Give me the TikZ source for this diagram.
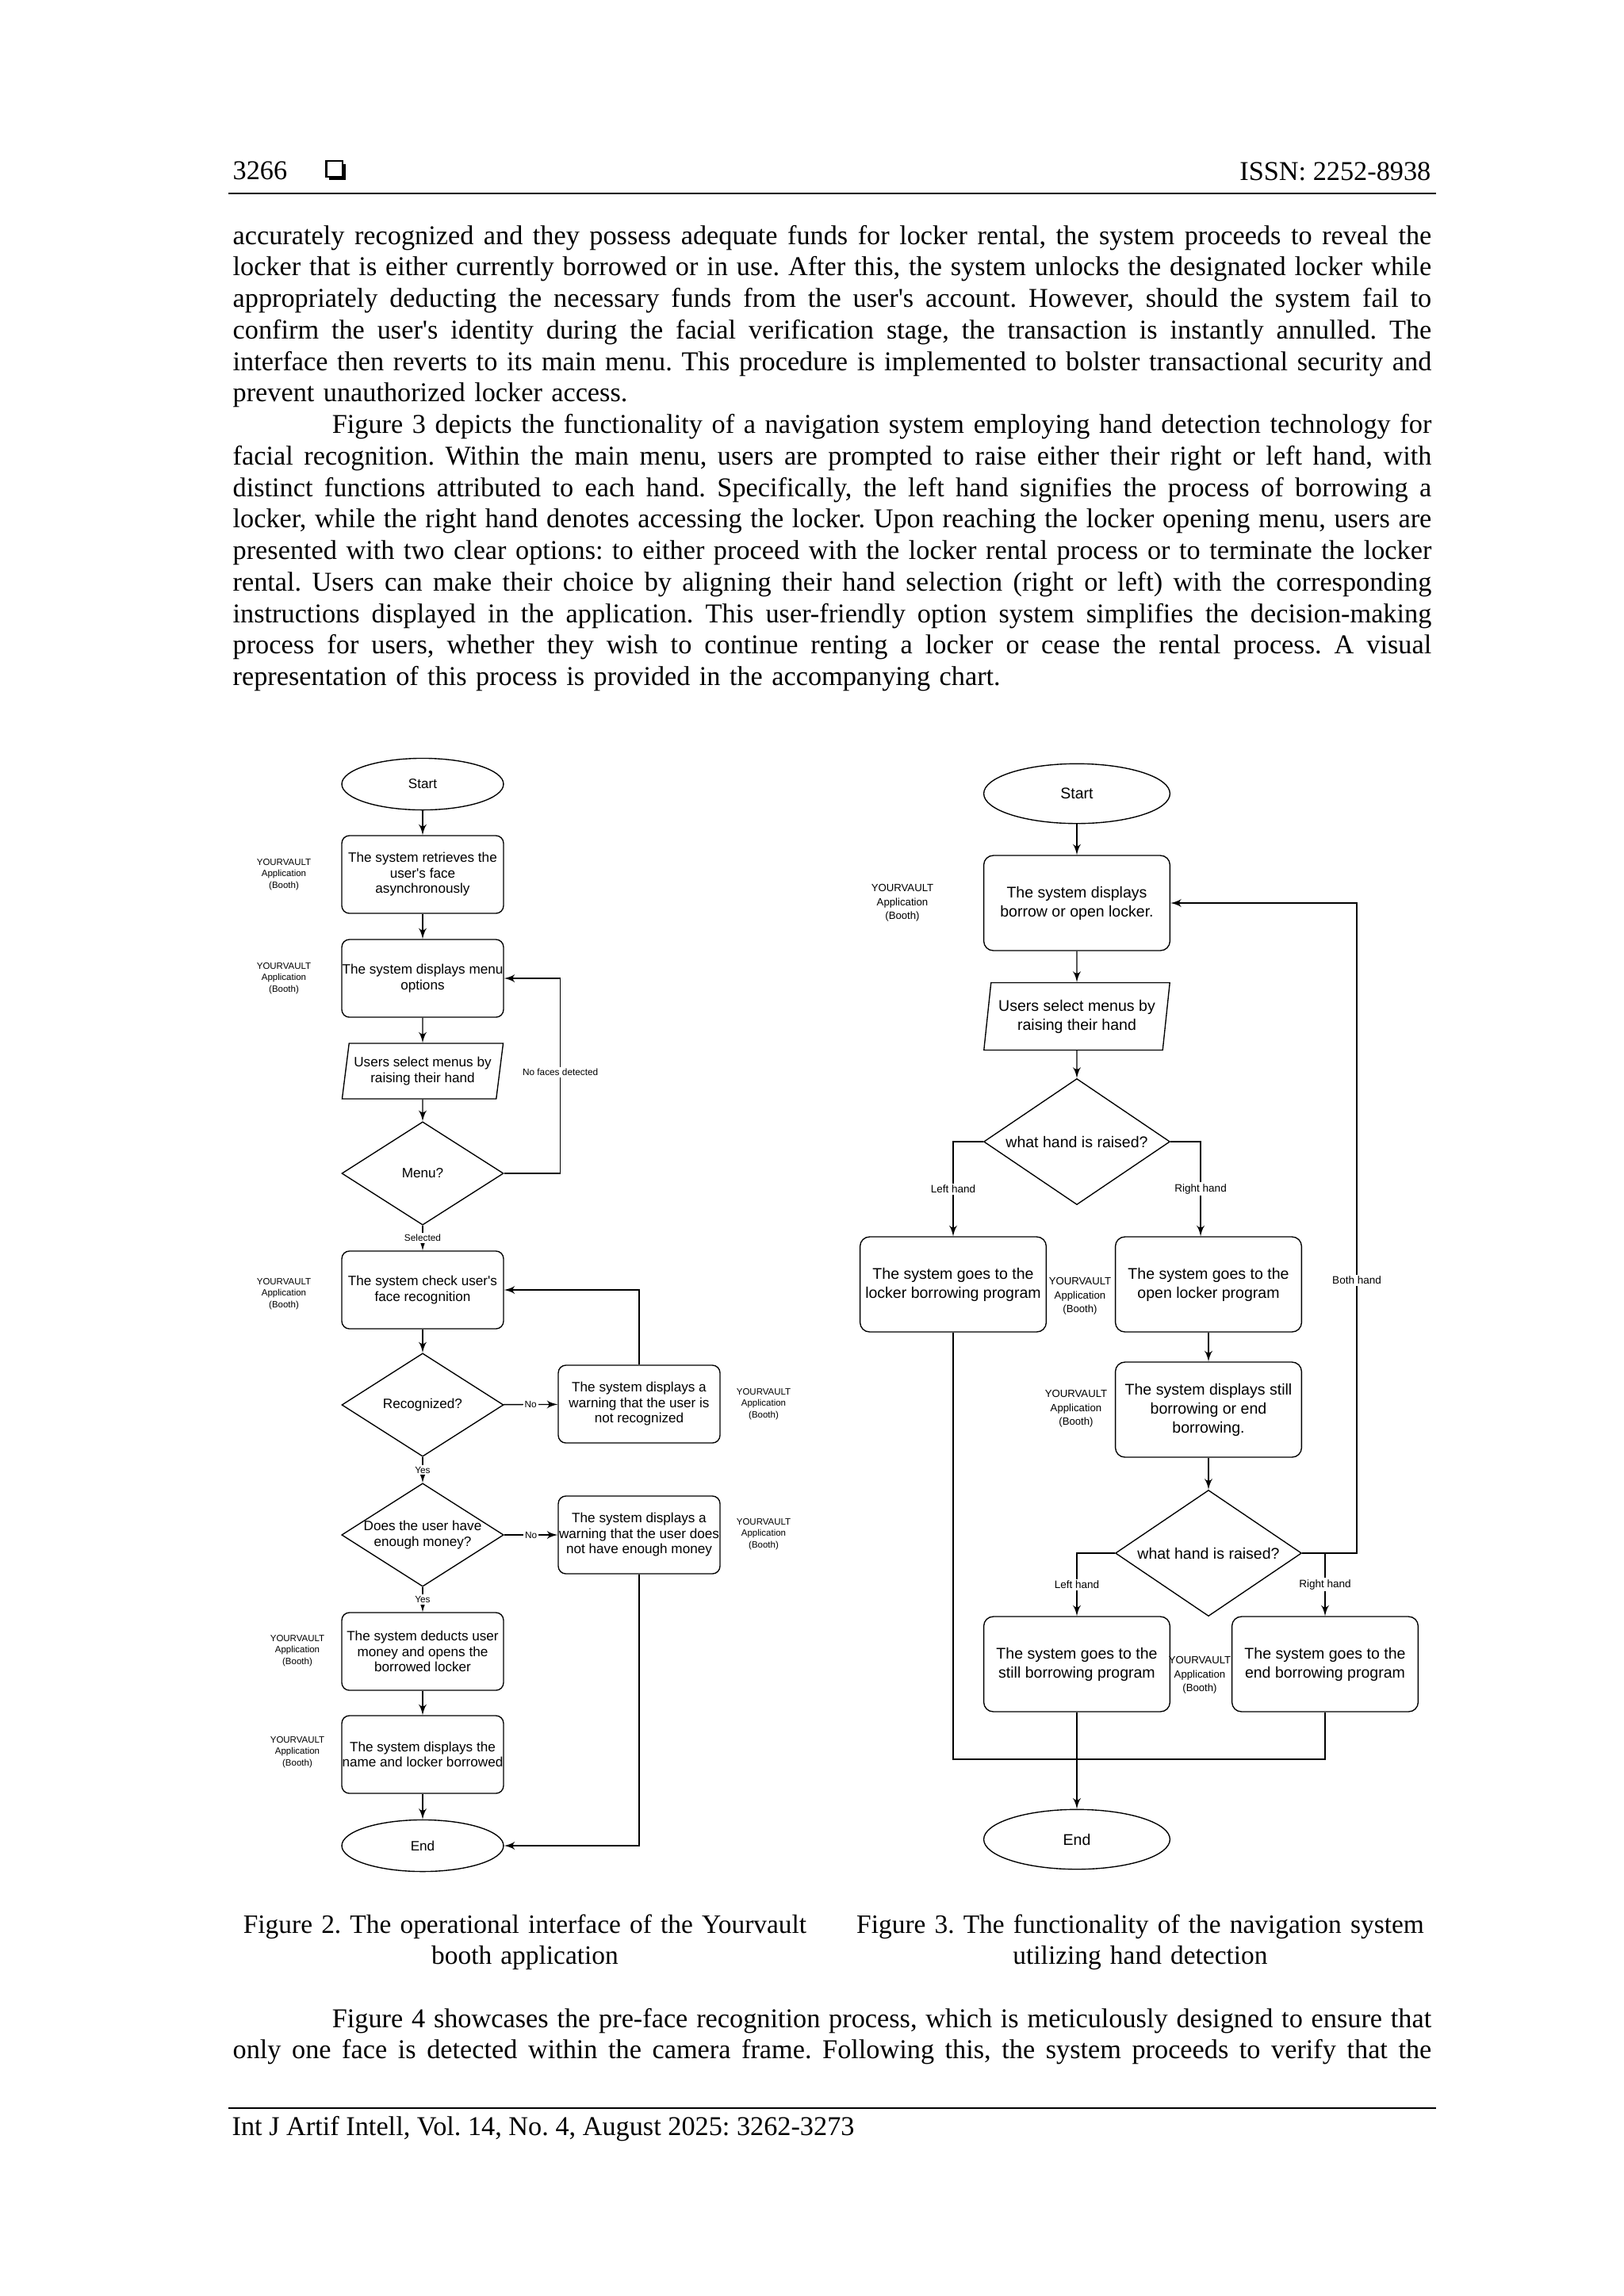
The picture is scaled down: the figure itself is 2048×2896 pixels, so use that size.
\documentclass[tikz,border=0pt]{standalone}
\usepackage{fontspec}
\setmainfont{Liberation Serif}
\newfontfamily\chartfont{Liberation Sans}
\usetikzlibrary{arrows}
\usetikzlibrary{shapes.geometric}
\newlength\bodywd
\setlength\bodywd{441pt}
\newcommand\jl[1]{\noindent\hbox to\bodywd{\spaceskip=2.5pt plus 12pt minus 0.9pt\relax #1}\par}
\newcommand\ind{\hspace*{36.5pt}}
\newcommand\aps{\textquotesingle}
\frenchspacing

\begin{document}
\begin{tikzpicture}[x=0.010254cm, y=-0.010254cm]
        \tikzset{page/.style = {inner sep=0pt, text width=\bodywd, font=\fontsize{10pt}{11.6pt}\selectfont}}
        \tikzset{hdr/.style = {inner sep=0pt, font=\fontsize{10pt}{11.6pt}\selectfont}}
        \tikzset{captext/.style = {inner sep=0pt, text width=270pt, align=center, font=\fontsize{9.75pt}{11.6pt}\selectfont}}
        \tikzset{edge/.style = {->,> = latex', line width=0.4pt}}
        \tikzset{link/.style = {-, line width=0.4pt}}
        % left chart
        \tikzset{lbox/.style = {shape=rectangle, draw, line width=0.4pt, rounded corners=2.8pt, minimum width=59.5pt, minimum height=28.6pt, inner sep=0pt, align=center, font=\chartfont\fontsize{5pt}{5.7pt}\selectfont}}
        \tikzset{lterm/.style = {lbox, shape=ellipse, sharp corners, minimum height=19pt}}
        \tikzset{lio/.style = {lbox, shape=trapezium, sharp corners, trapezium left angle=77, trapezium right angle=103, trapezium stretches=true, minimum height=20.4pt}}
        \tikzset{ldec/.style = {lbox, shape=diamond, sharp corners, shape aspect=1.57, minimum height=38pt}}
        \tikzset{lside/.style = {align=center, inner sep=0pt, font=\chartfont\fontsize{3.35pt}{4.15pt}\selectfont}}
        \tikzset{ledge/.style = {fill=white, inner sep=0.6pt, font=\chartfont\fontsize{3.45pt}{4pt}\selectfont}}
        % right chart
        \tikzset{rbox/.style = {lbox, rounded corners=3.5pt, minimum width=68.5pt, minimum height=35pt, font=\chartfont\fontsize{5.7pt}{7pt}\selectfont}}
        \tikzset{rterm/.style = {rbox, shape=ellipse, sharp corners, minimum height=22pt}}
        \tikzset{rio/.style = {rbox, shape=trapezium, sharp corners, trapezium left angle=79, trapezium right angle=101, trapezium stretches=true, minimum height=24.8pt}}
        \tikzset{rdec/.style = {rbox, shape=diamond, sharp corners, shape aspect=1.48, minimum height=46.4pt}}
        \tikzset{rside/.style = {lside, font=\chartfont\fontsize{3.85pt}{5.1pt}\selectfont}}
        \tikzset{redge/.style = {ledge, font=\chartfont\fontsize{3.95pt}{4.5pt}\selectfont}}

        \fill[white] (0,0) rectangle (2048,2896);
        \useasboundingbox (0,0) rectangle (2048,2896);

        % header and text
        \node[hdr, anchor=base west] (pg) at (293,226) {3266};
        \fill (415,207) rectangle (436,227);
        \filldraw[fill=white, line width=0.6pt] (411.5,203) rectangle (432,223);
        \node[hdr, anchor=base east] (issn) at (1805,227) {ISSN: 2252-8938};
        \draw[line width=0.8pt] (288,244) -- (1811,244);

        \node[page, anchor=base west] (p1) at (293,308) {%
          \jl{accurately recognized and they possess adequate funds for locker rental, the system proceeds to reveal the}
          \jl{locker that is either currently borrowed or in use. After this, the system unlocks the designated locker while}
          \jl{appropriately deducting the necessary funds from the user\aps s account. However, should the system fail to}
          \jl{confirm the user\aps s identity during the facial verification stage, the transaction is instantly annulled. The}
          \jl{interface then reverts to its main menu. This procedure is implemented to bolster transactional security and}
          \noindent prevent unauthorized locker access.\par
          \jl{\ind Figure 3 depicts the functionality of a navigation system employing hand detection technology for}
          \jl{facial recognition. Within the main menu, users are prompted to raise either their right or left hand, with}
          \jl{distinct functions attributed to each hand. Specifically, the left hand signifies the process of borrowing a}
          \jl{locker, while the right hand denotes accessing the locker. Upon reaching the locker opening menu, users are}
          \jl{presented with two clear options: to either proceed with the locker rental process or to terminate the locker}
          \jl{rental. Users can make their choice by aligning their hand selection (right or left) with the corresponding}
          \jl{instructions displayed in the application. This user-friendly option system simplifies the decision-making}
          \jl{process for users, whether they wish to continue renting a locker or cease the rental process. A visual}
          \noindent representation of this process is provided in the accompanying chart.\par};

        % figure 2
        \node[lterm] (a1) at (533, 989) {Start};
        \node[lbox] (a2) at (533, 1103) {The system retrieves the\\user's face\\asynchronously};
        \node[lbox] (a3) at (533, 1234) {The system displays menu\\options};
        \node[lio] (a4) at (533, 1351) {Users select menus by\\raising their hand};
        \node[ldec] (a5) at (533, 1480) {Menu?};
        \node[lbox] (a6) at (533, 1627) {The system check user's\\face recognition};
        \node[ldec] (a7) at (533, 1772) {Recognized?};
        \node[lbox] (a8) at (806, 1771) {The system displays a\\warning that the user is\\not recognized};
        \node[ldec] (a9) at (533, 1936) {Does the user have\\enough money?};
        \node[lbox] (a10) at (806, 1936) {The system displays a\\warning that the user does\\not have enough money};
        \node[lbox] (a11) at (533, 2083) {The system deducts user\\money and opens the\\borrowed locker};
        \node[lbox] (a12) at (533, 2213) {The system displays the\\name and locker borrowed};
        \node[lterm] (a13) at (533, 2328) {End};

        \node[lside] (s2) at (358, 1103) {YOURVAULT\\Application\\(Booth)};
        \node[lside] (s3) at (358, 1234) {YOURVAULT\\Application\\(Booth)};
        \node[lside] (s6) at (358, 1632) {YOURVAULT\\Application\\(Booth)};
        \node[lside] (s8) at (963, 1771) {YOURVAULT\\Application\\(Booth)};
        \node[lside] (s10) at (963, 1935) {YOURVAULT\\Application\\(Booth)};
        \node[lside] (s11) at (375, 2082) {YOURVAULT\\Application\\(Booth)};
        \node[lside] (s12) at (375, 2210) {YOURVAULT\\Application\\(Booth)};

        \draw[edge] (a1) to (a2);
        \draw[edge] (a2) to (a3);
        \draw[edge] (a3) to (a4);
        \draw[edge] (a4) to (a5);
        \draw[edge] (a5) to node[ledge] {Selected} (a6);
        \draw[edge] (a5.east) -- ++(71,0) |- node[ledge, pos=0.26] {No faces detected} (a3.east);
        \draw[edge] (a6) to (a7);
        \draw[edge] (a7) to node[ledge] {No} (a8);
        \draw[edge] (a8.north) |- (a6.east);
        \draw[edge] (a7) to node[ledge] {Yes} (a9);
        \draw[edge] (a9) to node[ledge] {No} (a10);
        \draw[edge] (a10.south) |- (a13.east);
        \draw[edge] (a9) to node[ledge] {Yes} (a11);
        \draw[edge] (a11) to (a12);
        \draw[edge] (a12) to (a13);

        % figure 3
        \node[rterm] (b1) at (1358, 1001) {Start};
        \node[rbox] (b2) at (1358, 1139) {The system displays\\borrow or open locker.};
        \node[rio] (b3) at (1358, 1282) {Users select menus by\\raising their hand};
        \node[rdec] (b4) at (1358, 1440) {what hand is raised?};
        \node[rbox] (b5) at (1202, 1620) {The system goes to the\\locker borrowing program};
        \node[rbox] (b6) at (1524, 1620) {The system goes to the\\open locker program};
        \node[rbox] (b7) at (1524, 1778) {The system displays still\\borrowing or end\\borrowing.};
        \node[rdec] (b8) at (1524, 1959) {what hand is raised?};
        \node[rbox] (b9) at (1358, 2099) {The system goes to the\\still borrowing program};
        \node[rbox] (b10) at (1671, 2099) {The system goes to the\\end borrowing program};
        \node[rterm] (b11) at (1358, 2320) {End};
        \coordinate (m) at (1358, 2219);

        \node[rside] (t2) at (1138, 1139) {YOURVAULT\\Application\\(Booth)};
        \node[rside] (t5) at (1362, 1635) {YOURVAULT\\Application\\(Booth)};
        \node[rside] (t7) at (1357, 1777) {YOURVAULT\\Application\\(Booth)};
        \node[rside] (t9) at (1513, 2113) {YOURVAULT\\Application\\(Booth)};

        \draw[edge] (b1) to (b2);
        \draw[edge] (b2) to (b3);
        \draw[edge] (b3) to (b4);
        \draw[edge] (b4.west) -| node[redge, pos=0.75] {Left hand} (b5.north);
        \draw[edge] (b4.east) -| node[redge, pos=0.75] {Right hand} ([xshift=-2.9pt]b6.north);
        \draw[edge] (b6) to (b7);
        \draw[edge] (b7) to (b8);
        \draw[edge] (b8.west) -| node[redge, pos=0.75] {Left hand} (b9.north);
        \draw[edge] (b8.east) -| node[redge, pos=0.75] {Right hand} (b10.north);
        \draw[edge] (b8.east) -- ++(69,0) |- node[redge, pos=0.21] {Both hand} (b2.east);
        \draw[link] (b5.south) |- (m) -| (b10.south);
        \draw[edge] (b9) to (b11);

        % captions and footer
        \node[captext, anchor=base] (cap2) at (662,2438) {Figure 2. The operational interface of the Yourvault\\booth application};
        \node[captext, anchor=base] (cap3) at (1438,2438) {Figure 3. The functionality of the navigation system\\utilizing hand detection};
        \node[page, anchor=base west] (p3) at (293,2557) {%
          \jl{\ind Figure 4 showcases the pre-face recognition process, which is meticulously designed to ensure that}
          \jl{only one face is detected within the camera frame. Following this, the system proceeds to verify that the}};
        \draw[line width=0.8pt] (288,2659) -- (1811,2659);
        \node[hdr, anchor=base west] (foot) at (292,2693) {Int J Artif Intell, Vol. 14, No. 4, August 2025: 3262-3273};
      \end{tikzpicture}
\end{document}
